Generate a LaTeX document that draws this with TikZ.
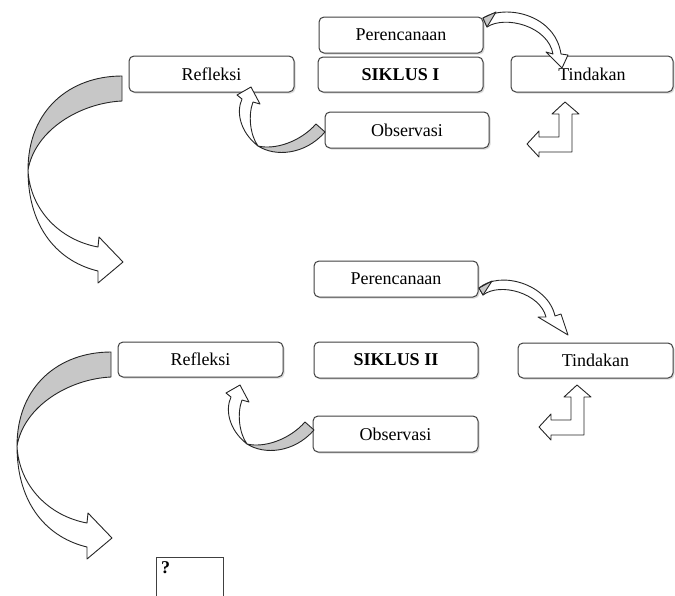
\documentclass[tikz,border=0pt]{standalone}
\usepackage{fontspec}
\setmainfont{Liberation Serif}
\usetikzlibrary{shadows}
\tikzset{
  box/.style={draw=black!75, line width=1pt, rounded corners=5pt, fill=white, inner sep=0pt,
    font=\fontsize{18}{20}\selectfont,
    drop shadow={shadow xshift=1.5pt, shadow yshift=-1.5pt, opacity=0.3}},
  band/.style={draw=black!85, line width=0.9pt, line join=round, fill=white},
  back/.style={band, fill=black!22},
}
\newcommand{\BigCurvArrow}{%
  \path[back] (122,76) .. controls (70,76) and (28,110) .. (28,170)
     .. controls (35,130) and (80,103) .. (122,101) -- cycle;
  \path[band] (28,170) .. controls (28,230) and (60,262) .. (98,271) -- (98,283) -- (123,262)
     -- (99,237) -- (98,247) .. controls (60,240) and (30,210) .. (28,170) -- cycle;}
\newcommand{\SmallCurvArrow}{%
  \path[back] (316,124) -- (325,132) .. controls (305,155) and (275,157) .. (258,146)
     .. controls (275,150) and (300,142) .. (316,124) -- cycle;
  \path[band] (258,146) .. controls (240,132) and (236,112) .. (242,99) -- (237,95) -- (251,87)
     -- (260,104) -- (253,102) .. controls (248,115) and (250,135) .. (258,146) -- cycle;}
\newcommand{\ElbowArrow}{%
  \path[band] (565,102) -- (579,114) -- (572,114) -- (572,152) -- (539,152) -- (539,157)
     -- (527,144) -- (539,131) -- (539,137) -- (559,137) -- (559,114) -- (552,114) -- cycle;}
\begin{document}
\begin{tikzpicture}[x=1pt,y=-1pt]
\useasboundingbox (0,0) rectangle (675,595);

% ---------- SIKLUS I ----------
\node[box, minimum width=164pt, minimum height=36pt] (per1) at (401,35) {Perencanaan};
\node[box, minimum width=165pt, minimum height=35pt, font=\fontsize{18}{20}\selectfont\bfseries] (sik1) at (400.5,74.5) {SIKLUS I};
\node[box, minimum width=162pt, minimum height=36pt] (tin1) at (592,74) {Tindakan};
\node[box, minimum width=164pt, minimum height=36pt] (obs1) at (407,130) {Observasi};
\node[box, minimum width=165pt, minimum height=36pt] (ref1) at (211.5,74) {Refleksi};

% Perencanaan -> Tindakan
\path[band] (483,18) .. controls (505,4) and (555,14) .. (561,54) -- (568,55) -- (562,68)
   -- (546,52) -- (553,54) .. controls (548,26) and (505,15) .. (487,27) -- cycle;
\path[back] (483,18) -- (496,12) -- (487,27) -- cycle;
% Tindakan -> Observasi
\ElbowArrow
% Observasi -> Refleksi
\SmallCurvArrow
% Refleksi -> next cycle
\BigCurvArrow

% ---------- SIKLUS II ----------
\node[box, minimum width=164pt, minimum height=36pt] (per2) at (396,279) {Perencanaan};
\node[box, minimum width=164pt, minimum height=36pt, font=\fontsize{18}{20}\selectfont\bfseries] (sik2) at (396,360) {SIKLUS II};
\node[box, minimum width=155pt, minimum height=35pt] (tin2) at (595.5,360.5) {Tindakan};
\node[box, minimum width=165pt, minimum height=36pt] (obs2) at (395.5,434) {Observasi};
\node[box, minimum width=165pt, minimum height=35pt] (ref2) at (200.5,359.5) {Refleksi};

% Perencanaan -> Tindakan
\path[band] (479,288) .. controls (500,270) and (548,284) .. (555,316) -- (561,314) -- (568,335)
   -- (538,317) -- (546,317) .. controls (540,293) and (500,282) .. (483,295) -- cycle;
\path[back] (479,288) -- (492,281) -- (483,295) -- cycle;
\begin{scope}[shift={(12,283)}]
  \ElbowArrow
\end{scope}
\begin{scope}[shift={(-11,298)}]
  \SmallCurvArrow
\end{scope}
\begin{scope}[shift={(-11,276)}]
  \BigCurvArrow
\end{scope}

% ---------- next ----------
\node[draw=black!75, line width=1pt, minimum width=67pt, minimum height=50pt, anchor=north west, inner sep=0pt] (q) at (156,557) {};
\node[anchor=north west, inner sep=0pt, font=\fontsize{18}{20}\selectfont\bfseries] (qlabel) at ([xshift=5pt, yshift=-4pt]q.north west) {?};
\end{tikzpicture}
\end{document}
